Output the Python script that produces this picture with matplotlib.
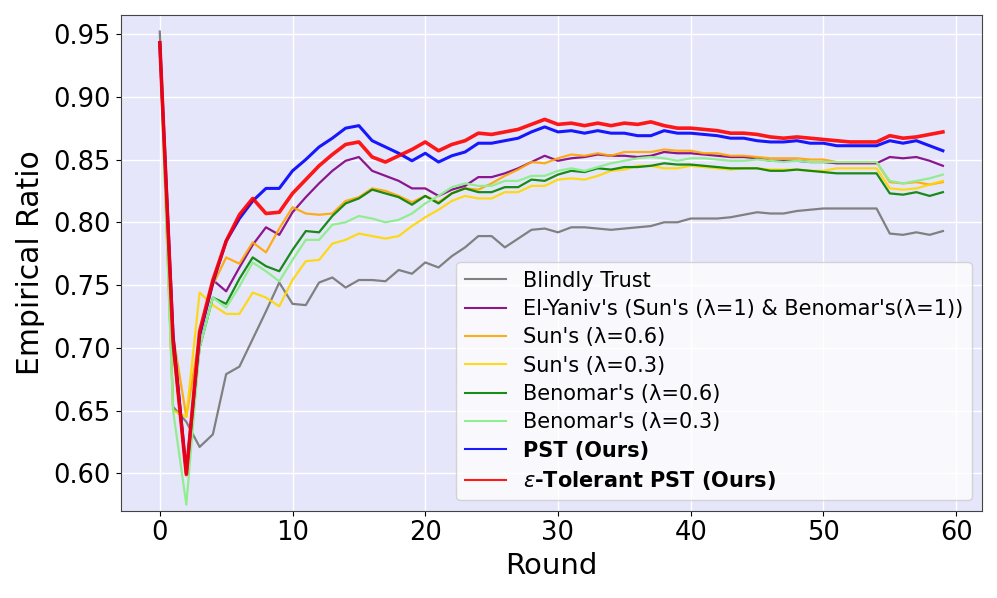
import matplotlib
matplotlib.use('Agg')
import matplotlib.pyplot as plt
import numpy as np

rounds = np.arange(60)

blindly_trust = [0.952, 0.653, 0.641, 0.621, 0.631, 0.679, 0.685, 0.707, 0.729, 0.752,
                 0.735, 0.734, 0.752, 0.756, 0.748, 0.754, 0.754, 0.753, 0.762, 0.759,
                 0.768, 0.764, 0.773, 0.780, 0.789, 0.789, 0.780, 0.787, 0.794, 0.795,
                 0.792, 0.796, 0.796, 0.795, 0.794, 0.795, 0.796, 0.797, 0.800, 0.800,
                 0.803, 0.803, 0.803, 0.804, 0.806, 0.808, 0.807, 0.807, 0.809, 0.810,
                 0.811, 0.811, 0.811, 0.811, 0.811, 0.791, 0.790, 0.792, 0.790, 0.793]
el_yaniv = [0.943, 0.710, 0.600, 0.710, 0.754, 0.745, 0.764, 0.782, 0.796, 0.790,
            0.808, 0.820, 0.831, 0.841, 0.849, 0.852, 0.841, 0.837, 0.833, 0.827,
            0.827, 0.821, 0.826, 0.829, 0.836, 0.836, 0.839, 0.843, 0.848, 0.853,
            0.849, 0.851, 0.852, 0.854, 0.853, 0.853, 0.852, 0.853, 0.856, 0.855,
            0.855, 0.854, 0.853, 0.852, 0.852, 0.851, 0.849, 0.849, 0.849, 0.848,
            0.848, 0.847, 0.847, 0.847, 0.847, 0.852, 0.851, 0.852, 0.849, 0.845]
sun_06 = [0.943, 0.710, 0.645, 0.710, 0.750, 0.772, 0.767, 0.784, 0.776, 0.795,
          0.812, 0.807, 0.806, 0.807, 0.817, 0.820, 0.827, 0.825, 0.821, 0.816,
          0.821, 0.816, 0.823, 0.827, 0.826, 0.831, 0.837, 0.842, 0.848, 0.847,
          0.851, 0.854, 0.853, 0.855, 0.853, 0.856, 0.856, 0.856, 0.858, 0.857,
          0.857, 0.855, 0.855, 0.853, 0.853, 0.852, 0.851, 0.851, 0.851, 0.850,
          0.850, 0.848, 0.848, 0.848, 0.848, 0.832, 0.831, 0.832, 0.830, 0.832]
sun_03 = [0.943, 0.650, 0.645, 0.744, 0.734, 0.727, 0.727, 0.744, 0.740, 0.733,
          0.754, 0.769, 0.770, 0.783, 0.786, 0.791, 0.789, 0.787, 0.789, 0.797,
          0.804, 0.810, 0.817, 0.821, 0.819, 0.819, 0.824, 0.824, 0.829, 0.829,
          0.834, 0.835, 0.834, 0.837, 0.841, 0.842, 0.845, 0.845, 0.843, 0.843,
          0.845, 0.844, 0.843, 0.842, 0.843, 0.843, 0.842, 0.842, 0.842, 0.841,
          0.841, 0.843, 0.843, 0.843, 0.843, 0.827, 0.826, 0.827, 0.830, 0.833]
benomar_06 = [0.943, 0.700, 0.600, 0.700, 0.740, 0.735, 0.755, 0.772, 0.765, 0.761,
              0.778, 0.793, 0.792, 0.805, 0.815, 0.819, 0.826, 0.823, 0.820, 0.814,
              0.821, 0.815, 0.823, 0.827, 0.824, 0.824, 0.828, 0.828, 0.834, 0.833,
              0.838, 0.841, 0.840, 0.843, 0.842, 0.844, 0.844, 0.845, 0.847, 0.846,
              0.846, 0.845, 0.844, 0.843, 0.843, 0.843, 0.841, 0.841, 0.842, 0.841,
              0.840, 0.839, 0.839, 0.839, 0.839, 0.823, 0.822, 0.824, 0.821, 0.824]
benomar_03 = [0.943, 0.650, 0.575, 0.700, 0.740, 0.732, 0.749, 0.768, 0.761, 0.753,
              0.770, 0.786, 0.786, 0.798, 0.800, 0.805, 0.803, 0.800, 0.802, 0.807,
              0.815, 0.821, 0.828, 0.831, 0.829, 0.829, 0.833, 0.833, 0.837, 0.837,
              0.841, 0.843, 0.841, 0.844, 0.847, 0.849, 0.851, 0.852, 0.851, 0.849,
              0.851, 0.851, 0.850, 0.849, 0.849, 0.850, 0.849, 0.848, 0.849, 0.848,
              0.848, 0.848, 0.848, 0.848, 0.848, 0.833, 0.831, 0.833, 0.835, 0.838]
pst = [0.943, 0.710, 0.600, 0.710, 0.752, 0.785, 0.803, 0.817, 0.827, 0.827,
       0.841, 0.850, 0.860, 0.867, 0.875, 0.877, 0.865, 0.860, 0.855, 0.849,
       0.855, 0.848, 0.853, 0.856, 0.863, 0.863, 0.865, 0.867, 0.872, 0.876,
       0.872, 0.873, 0.871, 0.873, 0.871, 0.871, 0.869, 0.869, 0.873, 0.871,
       0.871, 0.870, 0.869, 0.867, 0.867, 0.865, 0.864, 0.864, 0.865, 0.863,
       0.863, 0.861, 0.861, 0.861, 0.861, 0.865, 0.863, 0.865, 0.861, 0.857]
eps_pst = [0.943, 0.705, 0.599, 0.713, 0.754, 0.785, 0.806, 0.819, 0.807, 0.808,
           0.823, 0.834, 0.845, 0.854, 0.862, 0.864, 0.852, 0.848, 0.853, 0.858,
           0.864, 0.857, 0.862, 0.865, 0.871, 0.870, 0.872, 0.874, 0.878, 0.882,
           0.878, 0.879, 0.877, 0.879, 0.877, 0.879, 0.878, 0.880, 0.877, 0.875,
           0.875, 0.874, 0.873, 0.871, 0.871, 0.870, 0.868, 0.867, 0.868, 0.867,
           0.866, 0.865, 0.864, 0.864, 0.864, 0.869, 0.867, 0.868, 0.870, 0.872]

fig, ax = plt.subplots(figsize=(9.97, 5.98), dpi=100)
fig.subplots_adjust(left=0.121, right=0.985, top=0.975, bottom=0.146)
ax.set_facecolor('#e6e6fa')

# Plot every method as its own line
ax.plot(rounds, blindly_trust, color='gray', lw=1.6, label='Blindly Trust')
ax.plot(rounds, el_yaniv, color='purple', lw=1.6, alpha=0.9,
        label="El-Yaniv's (Sun's (λ=1) & Benomar's(λ=1))")
ax.plot(rounds, sun_06, color='orange', lw=1.6, alpha=0.9, label="Sun's (λ=0.6)")
ax.plot(rounds, sun_03, color='gold', lw=1.6, alpha=0.9, label="Sun's (λ=0.3)")
ax.plot(rounds, benomar_06, color='green', lw=1.6, alpha=0.9, label="Benomar's (λ=0.6)")
ax.plot(rounds, benomar_03, color='lightgreen', lw=1.6, label="Benomar's (λ=0.3)")
ax.plot(rounds, pst, color='blue', lw=2.2, alpha=0.9, label='PST (Ours)')
ax.plot(rounds, eps_pst, color='red', lw=2.6, alpha=0.9,
        label=r'$\epsilon$-Tolerant PST (Ours)')

ax.set_ylim(0.5702, 0.9652)
ax.grid(True, color='white', lw=1)
ax.set_axisbelow(True)
for sp in ax.spines.values():
    sp.set_color('#444444')

ax.tick_params(labelsize=18.5)
ax.set_xlabel('Round', fontsize=21)
ax.set_ylabel('Empirical Ratio', fontsize=21.5, labelpad=6)

leg = ax.legend(loc='lower right', fontsize=15, labelspacing=0.4)
for line in leg.get_lines():
    line.set_linewidth(1.5)
for txt in leg.get_texts()[-2:]:
    txt.set_fontweight('bold')

fig.savefig('out.png', dpi=100)
